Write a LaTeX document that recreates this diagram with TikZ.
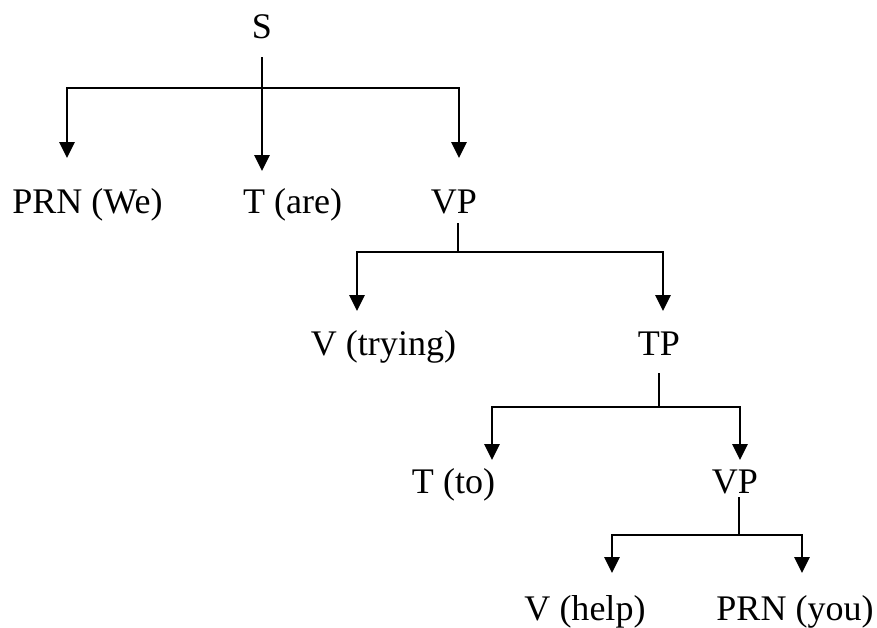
\documentclass[tikz,border=0pt]{standalone}
\usepackage{fontspec}
\setmainfont{Liberation Serif}
\usetikzlibrary{arrows.meta}

\begin{document}
\begin{tikzpicture}[x=0.02cm, y=-0.02cm,
    lbl/.style={anchor=base, inner sep=0pt, font=\fontsize{20.5}{24}\selectfont},
    stem/.style={line width=1pt},
    down/.style={line width=1.5pt, -{Triangle[width=0.3cm,length=0.32cm]}}]

    % Fix the size of the picture
    \useasboundingbox (0,0) rectangle (877,627);

    % Define the labels of the tree, level by level
    \node[lbl] (S) at (262,38) {S};
    \node[lbl] (PRNwe) at (87.5,213) {PRN (We)};
    \node[lbl] (Tare) at (292.5,213) {T (are)};
    \node[lbl] (VPa) at (454,213) {VP};
    \node[lbl] (Vtrying) at (383.5,355) {V (trying)};
    \node[lbl] (TP) at (659,355) {TP};
    \node[lbl] (Tto) at (453.5,493) {T (to)};
    \node[lbl] (VPb) at (735,493) {VP};
    \node[lbl] (Vhelp) at (585,620) {V (help)};
    \node[lbl] (PRNyou) at (795,620) {PRN (you)};

    % Define the top of each stem and the point where it meets its bar
    \coordinate (S-top) at (262,57);
    \coordinate (S-bar) at (262,88);
    \coordinate (VPa-top) at (458,223);
    \coordinate (VPa-bar) at (458,252);
    \coordinate (TP-top) at (659,373);
    \coordinate (TP-bar) at (659,407);
    \coordinate (VPb-top) at (739,497);
    \coordinate (VPb-bar) at (739,535);

    % Define the tips of the arrows above each label
    \coordinate (PRNwe-tip) at (67,158);
    \coordinate (Tare-tip) at (262,171);
    \coordinate (VPa-tip) at (459,158);
    \coordinate (Vtrying-tip) at (357,311);
    \coordinate (TP-tip) at (663,311);
    \coordinate (Tto-tip) at (492,460);
    \coordinate (VPb-tip) at (740,460);
    \coordinate (Vhelp-tip) at (612,573);
    \coordinate (PRNyou-tip) at (802,573);

    % Draw the stems below each parent
    \draw[stem] (S-top) -- (S-bar);
    \draw[stem] (VPa-top) -- (VPa-bar);
    \draw[stem] (TP-top) -- (TP-bar);
    \draw[stem] (VPb-top) -- (VPb-bar);

    % Draw the bars with the arrows down to the children
    \draw[down] (S-bar) -| (PRNwe-tip);
    \draw[down] (S-bar) -- (Tare-tip);
    \draw[down] (S-bar) -| (VPa-tip);
    \draw[down] (VPa-bar) -| (Vtrying-tip);
    \draw[down] (VPa-bar) -| (TP-tip);
    \draw[down] (TP-bar) -| (Tto-tip);
    \draw[down] (TP-bar) -| (VPb-tip);
    \draw[down] (VPb-bar) -| (Vhelp-tip);
    \draw[down] (VPb-bar) -| (PRNyou-tip);

\end{tikzpicture}
\end{document}
